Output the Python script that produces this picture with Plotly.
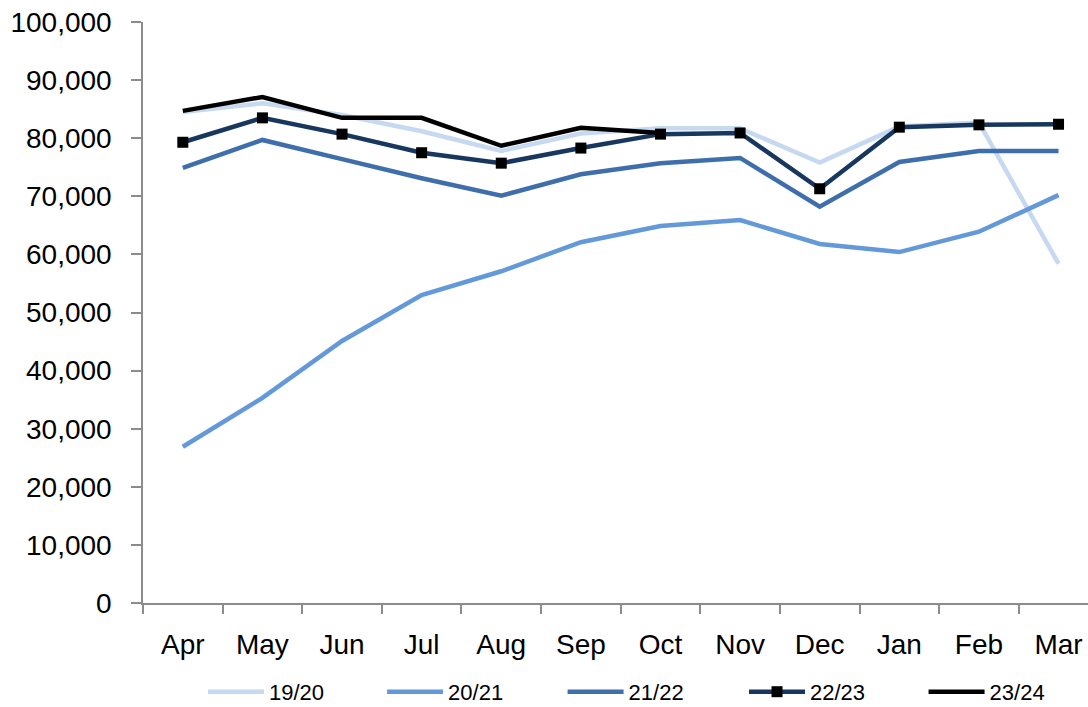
import plotly.graph_objects as go

months = ["Apr", "May", "Jun", "Jul", "Aug", "Sep", "Oct", "Nov", "Dec", "Jan", "Feb", "Mar"]

s1920 = [84500, 86000, 84000, 81200, 77800, 80800, 81700, 81700, 75800, 82000, 82700, 58400]
s2021 = [26900, 35300, 45100, 53000, 57100, 62100, 64900, 65900, 61800, 60400, 63900, 70200]
s2122 = [74900, 79700, 76400, 73100, 70100, 73800, 75700, 76600, 68200, 75900, 77800, 77800]
s2223 = [79300, 83500, 80700, 77500, 75700, 78300, 80700, 80900, 71300, 81900, 82300, 82400]
s2324 = [84700, 87100, 83500, 83500, 78700, 81800, 80900]

series_names = ["19/20", "20/21", "21/22", "22/23", "23/24"]
colors = ["#c6d9f0", "#6399d8", "#3f6faa", "#17375e", "#000000"]

legend_ids = ["legend", "legend2", "legend3", "legend4", "legend5"]
legend_x = [0.0635, 0.253, 0.444, 0.636, 0.826]

fig = go.Figure()
fig.add_trace(go.Scatter(x=months, y=s1920, name=series_names[0], mode="lines",
                         line=dict(color=colors[0], width=4.5), legend=legend_ids[0]))
fig.add_trace(go.Scatter(x=months, y=s2021, name=series_names[1], mode="lines",
                         line=dict(color=colors[1], width=4.5), legend=legend_ids[1]))
fig.add_trace(go.Scatter(x=months, y=s2122, name=series_names[2], mode="lines",
                         line=dict(color=colors[2], width=4.5), legend=legend_ids[2]))
fig.add_trace(go.Scatter(x=months, y=s2223, name=series_names[3], mode="lines+markers",
                         line=dict(color=colors[3], width=4.5),
                         marker=dict(symbol="square", size=11, color="#000000"),
                         legend=legend_ids[3]))
fig.add_trace(go.Scatter(x=months[:len(s2324)], y=s2324, name=series_names[4], mode="lines",
                         line=dict(color=colors[4], width=4.5), legend=legend_ids[4]))

font_main = "Liberation Sans"
legend_common = dict(orientation="h", xanchor="left", y=-0.153, yanchor="middle",
                     font=dict(size=22, family=font_main, color="#000000"),
                     itemwidth=56, bgcolor="rgba(0,0,0,0)")
layout_legends = {lid: dict(legend_common, x=lx) for lid, lx in zip(legend_ids, legend_x)}

fig.update_layout(
    width=1088, height=707,
    margin=dict(l=143, r=0, t=22, b=104, autoexpand=False),
    paper_bgcolor="white", plot_bgcolor="white",
    font=dict(family=font_main, color="#000000"),
    showlegend=True,
    **layout_legends,
)
fig.update_xaxes(
    type="category", categoryorder="array", categoryarray=months,
    range=[-0.5, 11.37],
    showline=True, linecolor="#8c8c8c", linewidth=1.5,
    ticks="outside", tickson="boundaries", ticklen=9, tickcolor="#8c8c8c", tickwidth=1.5,
    tickfont=dict(size=28, family=font_main, color="#000000"),
    ticklabelstandoff=16, automargin=False, ticklabeloverflow="allow",
    showgrid=False, zeroline=False,
)
fig.update_yaxes(
    range=[0, 100000], dtick=10000, tickformat=",",
    showline=True, linecolor="#8c8c8c", linewidth=1.5,
    ticks="outside", ticklen=10, tickcolor="#8c8c8c", tickwidth=1.5,
    tickfont=dict(size=28, family=font_main, color="#000000"),
    ticklabelstandoff=14, automargin=False, ticklabeloverflow="allow",
    showgrid=False, zeroline=False,
)

fig.write_html(
    "out.html",
    config={"displayModeBar": False},
    post_script="document.body.style.margin='0';document.body.style.overflow='hidden';",
)
